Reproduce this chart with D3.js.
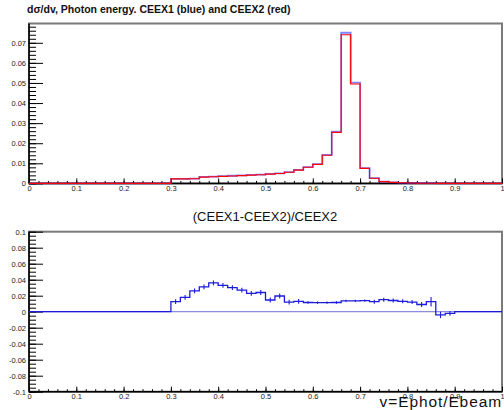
<!DOCTYPE html>
<html>
<head>
<meta charset="utf-8">
<script src="https://cdn.jsdelivr.net/npm/d3@7"></script>
<style>
body { margin: 0; background: #fff; }
text { font-family: "Liberation Sans", Helvetica, Arial, sans-serif; }
</style>
</head>
<body>
<svg id="chart" width="504" height="410"></svg>
<script>
// 50 bins of width 0.02 on v = Ephot/Ebeam
var binWidth = 0.02;

// dsigma/dv, CEEX1 (blue)
var ceex1 = [0,0,0,0,0, 0,0,0,0,0, 0,0,0,0,0,
  0.0023,0.0023,0.0024,0.0032,0.0034, 0.0036,0.0038,0.0040,0.0042,0.0044,
  0.0047,0.0050,0.0056,0.0067,0.0081, 0.0096,0.0142,0.0257,0.0750,0.0502,
  0.0076,0.0026,0.0009,0.0005,0.0003, 0.0002,0.0001,0.0001,0,0,
  0,0,0,0,0];

// dsigma/dv, CEEX2 (red)
var ceex2 = [0,0,0,0,0, 0,0,0,0,0, 0,0,0,0,0,
  0.00227,0.00226,0.00234,0.00310,0.00328, 0.00348,0.00369,0.00389,0.00411,0.00430,
  0.00463,0.00490,0.00553,0.00661,0.00801, 0.00949,0.01404,0.02541,0.0740,0.0495,
  0.0075,0.00257,0.00089,0.0005,0.0003, 0.0002,0.0001,0.0001,0,0,
  0,0,0,0,0];

// (CEEX1-CEEX2)/CEEX2 and its errors
var ratio = [0,0,0,0,0, 0,0,0,0,0, 0,0,0,0,0,
  0.0125,0.018,0.026,0.031,0.036, 0.033,0.030,0.027,0.023,0.024,
  0.0146,0.0196,0.012,0.013,0.0115, 0.0113,0.0113,0.0115,0.0135,0.0135,
  0.0138,0.0125,0.015,0.014,0.013, 0.012,0.009,0.0125,-0.004,-0.002,
  0,0,0,0,0];
var ratioErr = [0,0,0,0,0, 0,0,0,0,0, 0,0,0,0,0,
  0.003,0.003,0.003,0.003,0.003, 0.003,0.003,0.003,0.003,0.003,
  0.003,0.003,0.003,0.003,0.0015, 0.0015,0.0015,0.0015,0.0015,0.0015,
  0.0015,0.0025,0.0025,0.0025,0.0025, 0.0025,0.003,0.006,0.004,0.003,
  0,0,0,0,0];

// tick labels
var xTicks = [0,0.1,0.2,0.3,0.4,0.5,0.6,0.7,0.8,0.9,1];
var xLabels = ["0","0.1","0.2","0.3","0.4","0.5","0.6","0.7","0.8","0.9","1"];
var yTicksTop = [0,0.01,0.02,0.03,0.04,0.05,0.06,0.07];
var yLabelsTop = ["0","0.01","0.02","0.03","0.04","0.05","0.06","0.07"];
var yTicksBot = [-0.1,-0.08,-0.06,-0.04,-0.02,0,0.02,0.04,0.06,0.08,0.1];
var yLabelsBot = ["-0.1","-0.08","-0.06","-0.04","-0.02","0","0.02","0.04","0.06","0.08","0.1"];

var svg = d3.select("#chart");

var left = 29, right = 502;
var x = d3.scaleLinear().domain([0, 1]).range([left, right]);

var topPad = {top: 23.5, bottom: 183.4};
var botPad = {top: 231.7, bottom: 391.7};
var yTop = d3.scaleLinear().domain([0, 0.0796]).range([topPad.bottom, topPad.top]);
var yBot = d3.scaleLinear().domain([-0.1, 0.1]).range([botPad.bottom, botPad.top]);

// turn bin contents into points for a step line
function steps(vals) {
  var pts = vals.map(function(v, i) { return {x: i*binWidth, y: v}; });
  pts.push({x: 1, y: vals[vals.length-1]});
  return pts;
}

function drawFrame(y, pad, ticks, labels, minorStep) {
  // gray frame box (top and right edges show)
  svg.append("rect")
    .attr("x", left).attr("y", pad.top)
    .attr("width", right-left).attr("height", pad.bottom-pad.top)
    .attr("fill", "none").attr("stroke", "#7a7a7a").attr("stroke-width", 2);

  // x axis, ticks point up into the frame
  var xMinor = d3.range(0, 50).map(function(i) { return i*0.02; });
  svg.append("g").attr("transform", "translate(0," + pad.bottom + ")")
    .call(d3.axisBottom(x).tickValues(xMinor).tickSize(-2.5).tickFormat(""))
    .call(function(g) { g.select(".domain").remove(); });
  var xa = svg.append("g").attr("transform", "translate(0," + pad.bottom + ")")
    .call(d3.axisBottom(x).tickValues(xTicks).tickSize(-5).tickPadding(2)
      .tickFormat(function(d, i) { return xLabels[i]; }));
  xa.select(".domain").attr("d", "M" + left + ",0H" + right).attr("stroke-width", 1.5);
  xa.selectAll("text").attr("font-size", 7.5).attr("fill", "#222");

  // y axis, ticks point right
  var d0 = y.domain();
  var yMinor = d3.range(Math.ceil(d0[0]/minorStep), Math.floor(d0[1]/minorStep)+1)
    .map(function(k) { return k*minorStep; });
  svg.append("g").attr("transform", "translate(" + left + ",0)")
    .call(d3.axisLeft(y).tickValues(yMinor).tickSize(-7).tickFormat(""))
    .call(function(g) { g.select(".domain").remove(); });
  var ya = svg.append("g").attr("transform", "translate(" + left + ",0)")
    .call(d3.axisLeft(y).tickValues(ticks).tickSize(-14).tickPadding(3)
      .tickFormat(function(d, i) { return labels[i]; }));
  ya.select(".domain").attr("d", "M0," + pad.bottom + "V" + pad.top).attr("stroke-width", 1.5);
  ya.selectAll("text").attr("font-size", 7.5).attr("fill", "#222");
}

drawFrame(yTop, topPad, yTicksTop, yLabelsTop, 0.002);
drawFrame(yBot, botPad, yTicksBot, yLabelsBot, 0.005);

// top panel: two histograms
var lineTop = d3.line().curve(d3.curveStepAfter)
  .x(function(d) { return x(d.x); })
  .y(function(d) { return yTop(d.y); });

svg.append("path").datum(steps(ceex1))
  .attr("d", lineTop).attr("fill", "none")
  .attr("stroke", "#3030ff").attr("stroke-width", 1.8).attr("opacity", 0.6);
svg.append("path").datum(steps(ceex2))
  .attr("d", lineTop).attr("fill", "none")
  .attr("stroke", "#ff0000").attr("stroke-width", 1.1);

// bottom panel: zero line, ratio histogram with error bars
svg.append("line")
  .attr("x1", x(0)).attr("x2", x(1))
  .attr("y1", yBot(0)).attr("y2", yBot(0))
  .attr("stroke", "#8c8ce0").attr("stroke-width", 1.2);

var lineBot = d3.line().curve(d3.curveStepAfter)
  .x(function(d) { return x(d.x); })
  .y(function(d) { return yBot(d.y); });

svg.append("path").datum(steps(ratio))
  .attr("d", lineBot).attr("fill", "none")
  .attr("stroke", "#1c1cdc").attr("stroke-width", 1.3);

var errs = ratio.map(function(v, i) { return {c: (i+0.5)*binWidth, v: v, e: ratioErr[i]}; })
  .filter(function(d) { return d.e > 0; });
svg.append("g").selectAll("line")
  .data(errs).enter()
  .append("line")
  .attr("x1", function(d) { return x(d.c); })
  .attr("x2", function(d) { return x(d.c); })
  .attr("y1", function(d) { return yBot(d.v - d.e); })
  .attr("y2", function(d) { return yBot(d.v + d.e); })
  .attr("stroke", "#1c1cdc").attr("stroke-width", 1.1);

// titles
svg.append("text")
  .attr("x", 27).attr("y", 13)
  .attr("font-size", 10.5).attr("font-weight", "bold").attr("fill", "#111")
  .text("d\u03c3/dv, Photon energy. CEEX1 (blue) and CEEX2 (red)");

svg.append("text")
  .attr("x", 265).attr("y", 221).attr("text-anchor", "middle")
  .attr("font-size", 13).attr("fill", "#111")
  .text("(CEEX1-CEEX2)/CEEX2");

// axis title sits just under the tick labels, as in the original
svg.append("text")
  .attr("x", 502).attr("y", 406.5).attr("text-anchor", "end")
  .attr("font-size", 15.5).attr("letter-spacing", 0.9).attr("fill", "#111")
  .text("v=Ephot/Ebeam");
</script>
</body>
</html>
